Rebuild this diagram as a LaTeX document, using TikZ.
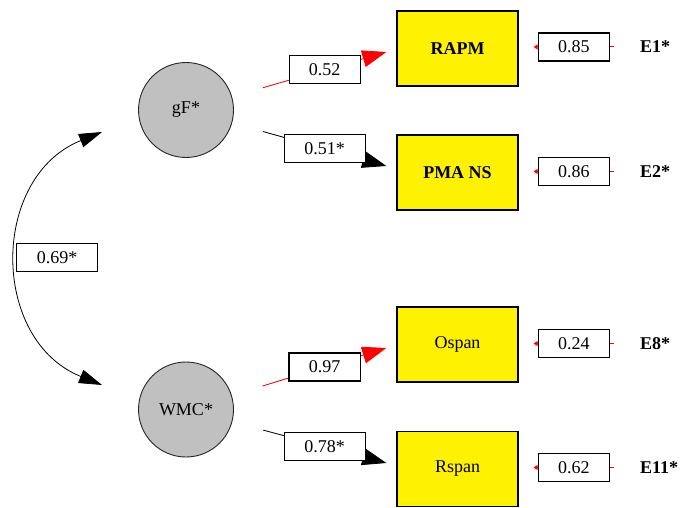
\documentclass[tikz,border=0pt]{standalone}
\usepackage{fontspec}
\setmainfont{Liberation Serif}
\usetikzlibrary{arrows.meta,calc}
\definecolor{latgray}{RGB}{192,192,192}
\begin{document}
\begin{tikzpicture}[x=1pt,y=-1pt,
  txt/.style={font=\fontsize{18}{21}\selectfont},
  latent/.style={circle, draw=black!85, line width=0.9pt, fill=latgray, minimum size=95pt, inner sep=0pt, txt},
  manifest/.style={rectangle, draw=black, line width=1.3pt, fill=yellow, minimum width=121pt, minimum height=75pt, inner sep=0pt, txt},
  val/.style={rectangle, draw=black, line width=1.1pt, fill=white, minimum width=71pt, minimum height=28pt, inner sep=0pt, txt},
  wval/.style={val, minimum width=81pt},
  errlab/.style={anchor=west, inner sep=0pt, txt},
  redpath/.style={draw=red, line width=0.8pt, -{Triangle[length=24pt,width=17pt]}, fill=red},
  blkpath/.style={draw=black, line width=0.8pt, -{Triangle[length=24pt,width=17pt]}, fill=black},
  resid/.style={draw=red, line width=1pt, -{Triangle[length=4pt,width=5pt]}},
  cov/.style={draw=black, line width=0.8pt, {Triangle[length=23pt,width=14pt]}-{Triangle[length=23pt,width=14pt]}}
]
\useasboundingbox (0,0) rectangle (680,508);

% latent factors
\node[latent] (gF) at (186,110) {gF*};
\node[latent] (WMC) at (186,409.5) {WMC*};

% manifest variables
\node[manifest] (RAPM) at (457.5,48.5) {\bfseries RAPM};
\node[manifest] (PMANS) at (457.5,172.5) {\bfseries PMA NS};
\node[manifest] (Ospan) at (457.5,344.5) {Ospan};
\node[manifest] (Rspan) at (457.5,469) {Rspan};

% error terms
\node[errlab] (E1) at (640,47) {\bfseries E1*};
\node[errlab] (E2) at (640,171.5) {\bfseries E2*};
\node[errlab] (E8) at (640,343.5) {\bfseries E8*};
\node[errlab] (E11) at (640,467.5) {\bfseries E11*};

% factor loadings
\draw[redpath, shorten <=32pt] (gF) -- ([xshift=-10pt,yshift=-3.5pt]RAPM.west)
  node[val, pos=0.6] (l1) {0.52};
\draw[blkpath, shorten <=32pt] (gF) -- ([xshift=-10pt,yshift=6.5pt]PMANS.west)
  node[wval, pos=0.6] (l2) {0.51*};
\draw[redpath, shorten <=32pt] (WMC) -- ([xshift=-10pt,yshift=-3.5pt]Ospan.west)
  node[val, pos=0.6] (l3) {0.97};
\draw[blkpath, shorten <=32pt] (WMC) -- ([xshift=-10pt,yshift=6pt]Rspan.west)
  node[wval, pos=0.6] (l4) {0.78*};

% residuals
\draw[resid] ($(E1.west)+(-26,0)$) -- ($(RAPM.east |- E1.west)+(15,0)$)
  node[val, midway] (r1) {0.85};
\draw[resid] ($(E2.west)+(-26,0)$) -- ($(PMANS.east |- E2.west)+(15,0)$)
  node[val, midway] (r2) {0.86};
\draw[resid] ($(E8.west)+(-26,0)$) -- ($(Ospan.east |- E8.west)+(15,0)$)
  node[val, midway] (r3) {0.24};
\draw[resid] ($(E11.west)+(-26,0)$) -- ($(Rspan.east |- E11.west)+(15,0)$)
  node[val, midway] (r4) {0.62};

% covariance
\coordinate (cA) at ($(gF.west)+(-36,22)$);
\coordinate (cB) at ($(WMC.west)+(-36,-24.5)$);
\draw[cov] (cB) .. controls ($(cB)+(-112,-45)$) and ($(cA)+(-112,45)$) .. (cA);
\node[wval] (cv) at (57,257.5) {0.69*};
\end{tikzpicture}
\end{document}
